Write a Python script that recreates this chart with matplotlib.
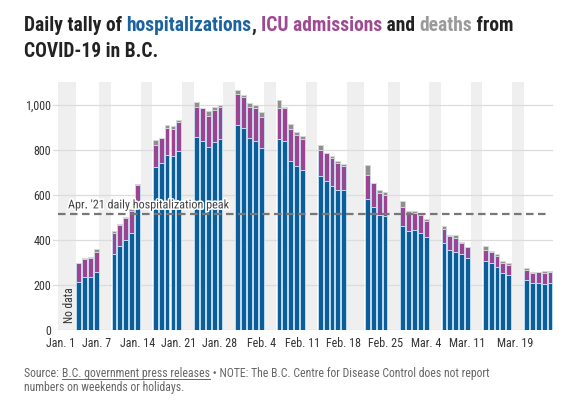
import matplotlib
matplotlib.use("Agg")
import matplotlib.pyplot as plt
import matplotlib.patheffects as pe
from matplotlib import font_manager
import numpy as np
import pandas as pd

# ---------------- data ----------------
dates = [
    "2022-01-04", "2022-01-05", "2022-01-06", "2022-01-07",
    "2022-01-10", "2022-01-11", "2022-01-12", "2022-01-13", "2022-01-14",
    "2022-01-17", "2022-01-18", "2022-01-19", "2022-01-20", "2022-01-21",
    "2022-01-24", "2022-01-25", "2022-01-26", "2022-01-27", "2022-01-28",
    "2022-01-31", "2022-02-01", "2022-02-02", "2022-02-03", "2022-02-04",
    "2022-02-07", "2022-02-08", "2022-02-09", "2022-02-10", "2022-02-11",
    "2022-02-14", "2022-02-15", "2022-02-16", "2022-02-17", "2022-02-18",
    "2022-02-22", "2022-02-23", "2022-02-24", "2022-02-25",
    "2022-02-28", "2022-03-01", "2022-03-02", "2022-03-03", "2022-03-04",
    "2022-03-07", "2022-03-08", "2022-03-09", "2022-03-10", "2022-03-11",
    "2022-03-14", "2022-03-15", "2022-03-16", "2022-03-17", "2022-03-18",
    "2022-03-21", "2022-03-22", "2022-03-23", "2022-03-24", "2022-03-25",
]
hospitalizations = [
    212, 234, 234, 256,
    338, 375, 399, 433, 551,
    723, 744, 779, 773, 796,
    858, 841, 815, 837, 850,
    911, 896, 855, 841, 810,
    847, 840, 753, 730, 711,
    683, 664, 641, 624, 621,
    581, 545, 510, 505,
    464, 438, 443, 433, 415,
    385, 356, 345, 336, 321,
    308, 296, 279, 252, 243,
    222, 207, 207, 203, 210,
]
icu = [
    84, 83, 87, 92,
    92, 92, 99, 97, 92,
    98, 108, 119, 120, 128,
    132, 144, 136, 141, 143,
    136, 138, 135, 144, 135,
    141, 147, 140, 137, 136,
    117, 121, 122, 120, 109,
    106, 107, 100, 93,
    84, 84, 76, 77, 69,
    62, 63, 64, 52, 46,
    48, 51, 51, 44, 47,
    46, 48, 49, 52, 48,
]
deaths = [
    2, 2, 2, 10,
    9, 2, 6, 6, 7,
    23, 2, 15, 15, 9,
    23, 2, 22, 15, 8,
    20, 10, 17, 16, 22,
    33, 2, 21, 12, 17,
    22, 2, 10, 6, 8,
    46, 2, 12, 14,
    24, 6, 10, 12, 8,
    15, 2, 12, 3, 2,
    19, 2, 8, 9, 6,
    9, 2, 2, 5, 2,
]
start_date = "2022-01-01"
end_date = "2022-03-25"
tick_dates = ["2022-01-01", "2022-01-07", "2022-01-14", "2022-01-21", "2022-01-28",
              "2022-02-04", "2022-02-11", "2022-02-18", "2022-02-25", "2022-03-04",
              "2022-03-11", "2022-03-19"]
tick_labels = ["Jan. 1", "Jan. 7", "Jan. 14", "Jan. 21", "Jan. 28", "Feb. 4",
               "Feb. 11", "Feb. 18", "Feb. 25", "Mar. 4", "Mar. 11", "Mar. 19"]
y_ticks = [0, 200, 400, 600, 800, 1000]
y_labels = ["0", "200", "400", "600", "800", "1,000"]
peak_value = 515
peak_label = "Apr. '21 daily hospitalization peak"

# ---------------- fonts ----------------
entries = font_manager.fontManager.ttflist
available = {f.name for f in entries}
FAMILY = "Roboto"
STRETCH = "normal"
for cand in ["Roboto Condensed", "Liberation Sans Narrow", "Open Sans Condensed",
             "Noto Sans Condensed", "DejaVu Sans Condensed"]:
    if cand in available:
        FAMILY = cand
        STRETCH = "normal"
        break
else:
    for fam in ["Roboto", "Noto Sans", "Open Sans", "DejaVu Sans"]:
        if any(f.name == fam and f.stretch in ("condensed", "semi-condensed") for f in entries):
            FAMILY = fam
            STRETCH = "condensed"
            break
plt.rcParams["font.family"] = [FAMILY, "DejaVu Sans"]
plt.rcParams["font.stretch"] = STRETCH

BLUE = "#0d5d99"
PURPLE = "#9c4490"
GRAY = "#8f8f8f"
TBLUE = "#1a62a0"
TPURPLE = "#9e4a92"
TGRAY = "#9a9a9a"
DARK = "#222222"
TXT = "#333333"
FOOT = "#666666"

W, H = 576, 404
fig = plt.figure(figsize=(W / 100, H / 100), dpi=100)
ax = fig.add_axes([53 / W, (H - 330) / H, 500 / W, (330 - 82) / H])

fig.canvas.draw()
renderer = fig.canvas.get_renderer()


def text_width(s, **kw):
    t = fig.text(0, 0, s + "x", **kw)
    w1 = t.get_window_extent(renderer).width
    t.remove()
    t = fig.text(0, 0, "x", **kw)
    w2 = t.get_window_extent(renderer).width
    t.remove()
    return w1 - w2


def fit(s, target_px, **kw):
    base = 10.0
    return base * target_px / text_width(s, fontsize=base, **kw)


tick_fs = fit("Jan. 14", 35)
peak_fs = fit(peak_label, 160)
nodata_fs = fit("No data", 36)

t0 = pd.Timestamp(start_date)
x = np.array([(pd.Timestamp(d) - t0).days for d in dates])
h = np.array(hospitalizations)
c = np.array(icu)
dd = np.array(deaths)

all_days = np.arange((pd.Timestamp(end_date) - t0).days + 1)
no_report = np.array([d for d in all_days if d not in set(x)])

YTOP = 1102
ax.bar(no_report, YTOP, width=1.0, color="#efefef", linewidth=0, zorder=0.1)

edge = "#c4e2f5"
bw = 0.82
ax.bar(x, h, width=bw, color=BLUE, edgecolor=edge, linewidth=0.6, zorder=2)
ax.bar(x, c, bottom=h, width=bw, color=PURPLE, edgecolor=edge, linewidth=0.6, zorder=2)
ax.bar(x, dd, bottom=h + c, width=bw, color=GRAY, edgecolor="#d8d8d8", linewidth=0.6, zorder=2)

ax.axhline(peak_value, xmin=0.01, xmax=0.988, color="#777777", lw=1.6,
           dashes=(3.4, 2.0), zorder=3)
ax.text(1.2, peak_value + 12, peak_label, fontsize=peak_fs, color="#444444",
        ha="left", va="bottom", zorder=4,
        path_effects=[pe.withStroke(linewidth=2.2, foreground="white")])

ax.text(1.4, 32, "No data", rotation=90, fontsize=nodata_fs, color=TXT,
        ha="center", va="bottom", zorder=4)

ax.set_xlim(-1.35, 83.5)
ax.set_ylim(0, YTOP)
ax.set_yticks(y_ticks)
ax.set_yticklabels(y_labels)
ax.set_xticks([(pd.Timestamp(d) - t0).days for d in tick_dates])
ax.set_xticklabels(tick_labels)
ax.tick_params(axis="both", length=0, labelsize=tick_fs, labelcolor=TXT)
ax.tick_params(axis="y", pad=1.2)
ax.tick_params(axis="x", pad=5)
ax.get_yticklabels()[0].set_verticalalignment("center_baseline")
for s in ax.spines.values():
    s.set_visible(False)
ax.set_axisbelow(True)
ax.yaxis.grid(True, color="#dcdcdc", lw=0.9, zorder=0.5)
ax.xaxis.grid(False)


def rich(xpx, ypx, parts, underline=None, **kw):
    prefix = ""
    for i, (s, col) in enumerate(parts):
        off = text_width(prefix, **kw) if prefix else 0.0
        fig.text((xpx + off) / W, (H - ypx) / H, s, color=col, ha="left",
                 va="baseline", **kw)
        if underline is not None and i == underline:
            wseg = text_width(s, **kw)
            fig.add_artist(plt.Line2D([(xpx + off) / W, (xpx + off + wseg) / W],
                                      [(H - ypx - 2) / H] * 2, color=col, lw=0.7))
        prefix += s


title1 = [("Daily tally of ", DARK), ("hospitalizations", TBLUE), (", ", DARK),
          ("ICU admissions", TPURPLE), (" and ", DARK), ("deaths", TGRAY),
          (" from", DARK)]
title_fs = fit("".join(p[0] for p in title1), 490, fontweight="bold")
title_kw = dict(fontsize=title_fs, fontweight="bold")
rich(24, 31, title1, **title_kw)
rich(24, 57, [("COVID-19 in B.C.", DARK)], **title_kw)

foot1 = [("Source: ", FOOT), ("B.C. government press releases", FOOT),
         (" \u2022 NOTE: The B.C. Centre for Disease Control does not report", FOOT)]
foot_fs = fit("".join(p[0] for p in foot1), 463)
foot_kw = dict(fontsize=foot_fs)
rich(24, 377, foot1, underline=1, **foot_kw)
rich(24, 391, [("numbers on weekends or holidays.", FOOT)], **foot_kw)

fig.savefig("out.png", dpi=100)
